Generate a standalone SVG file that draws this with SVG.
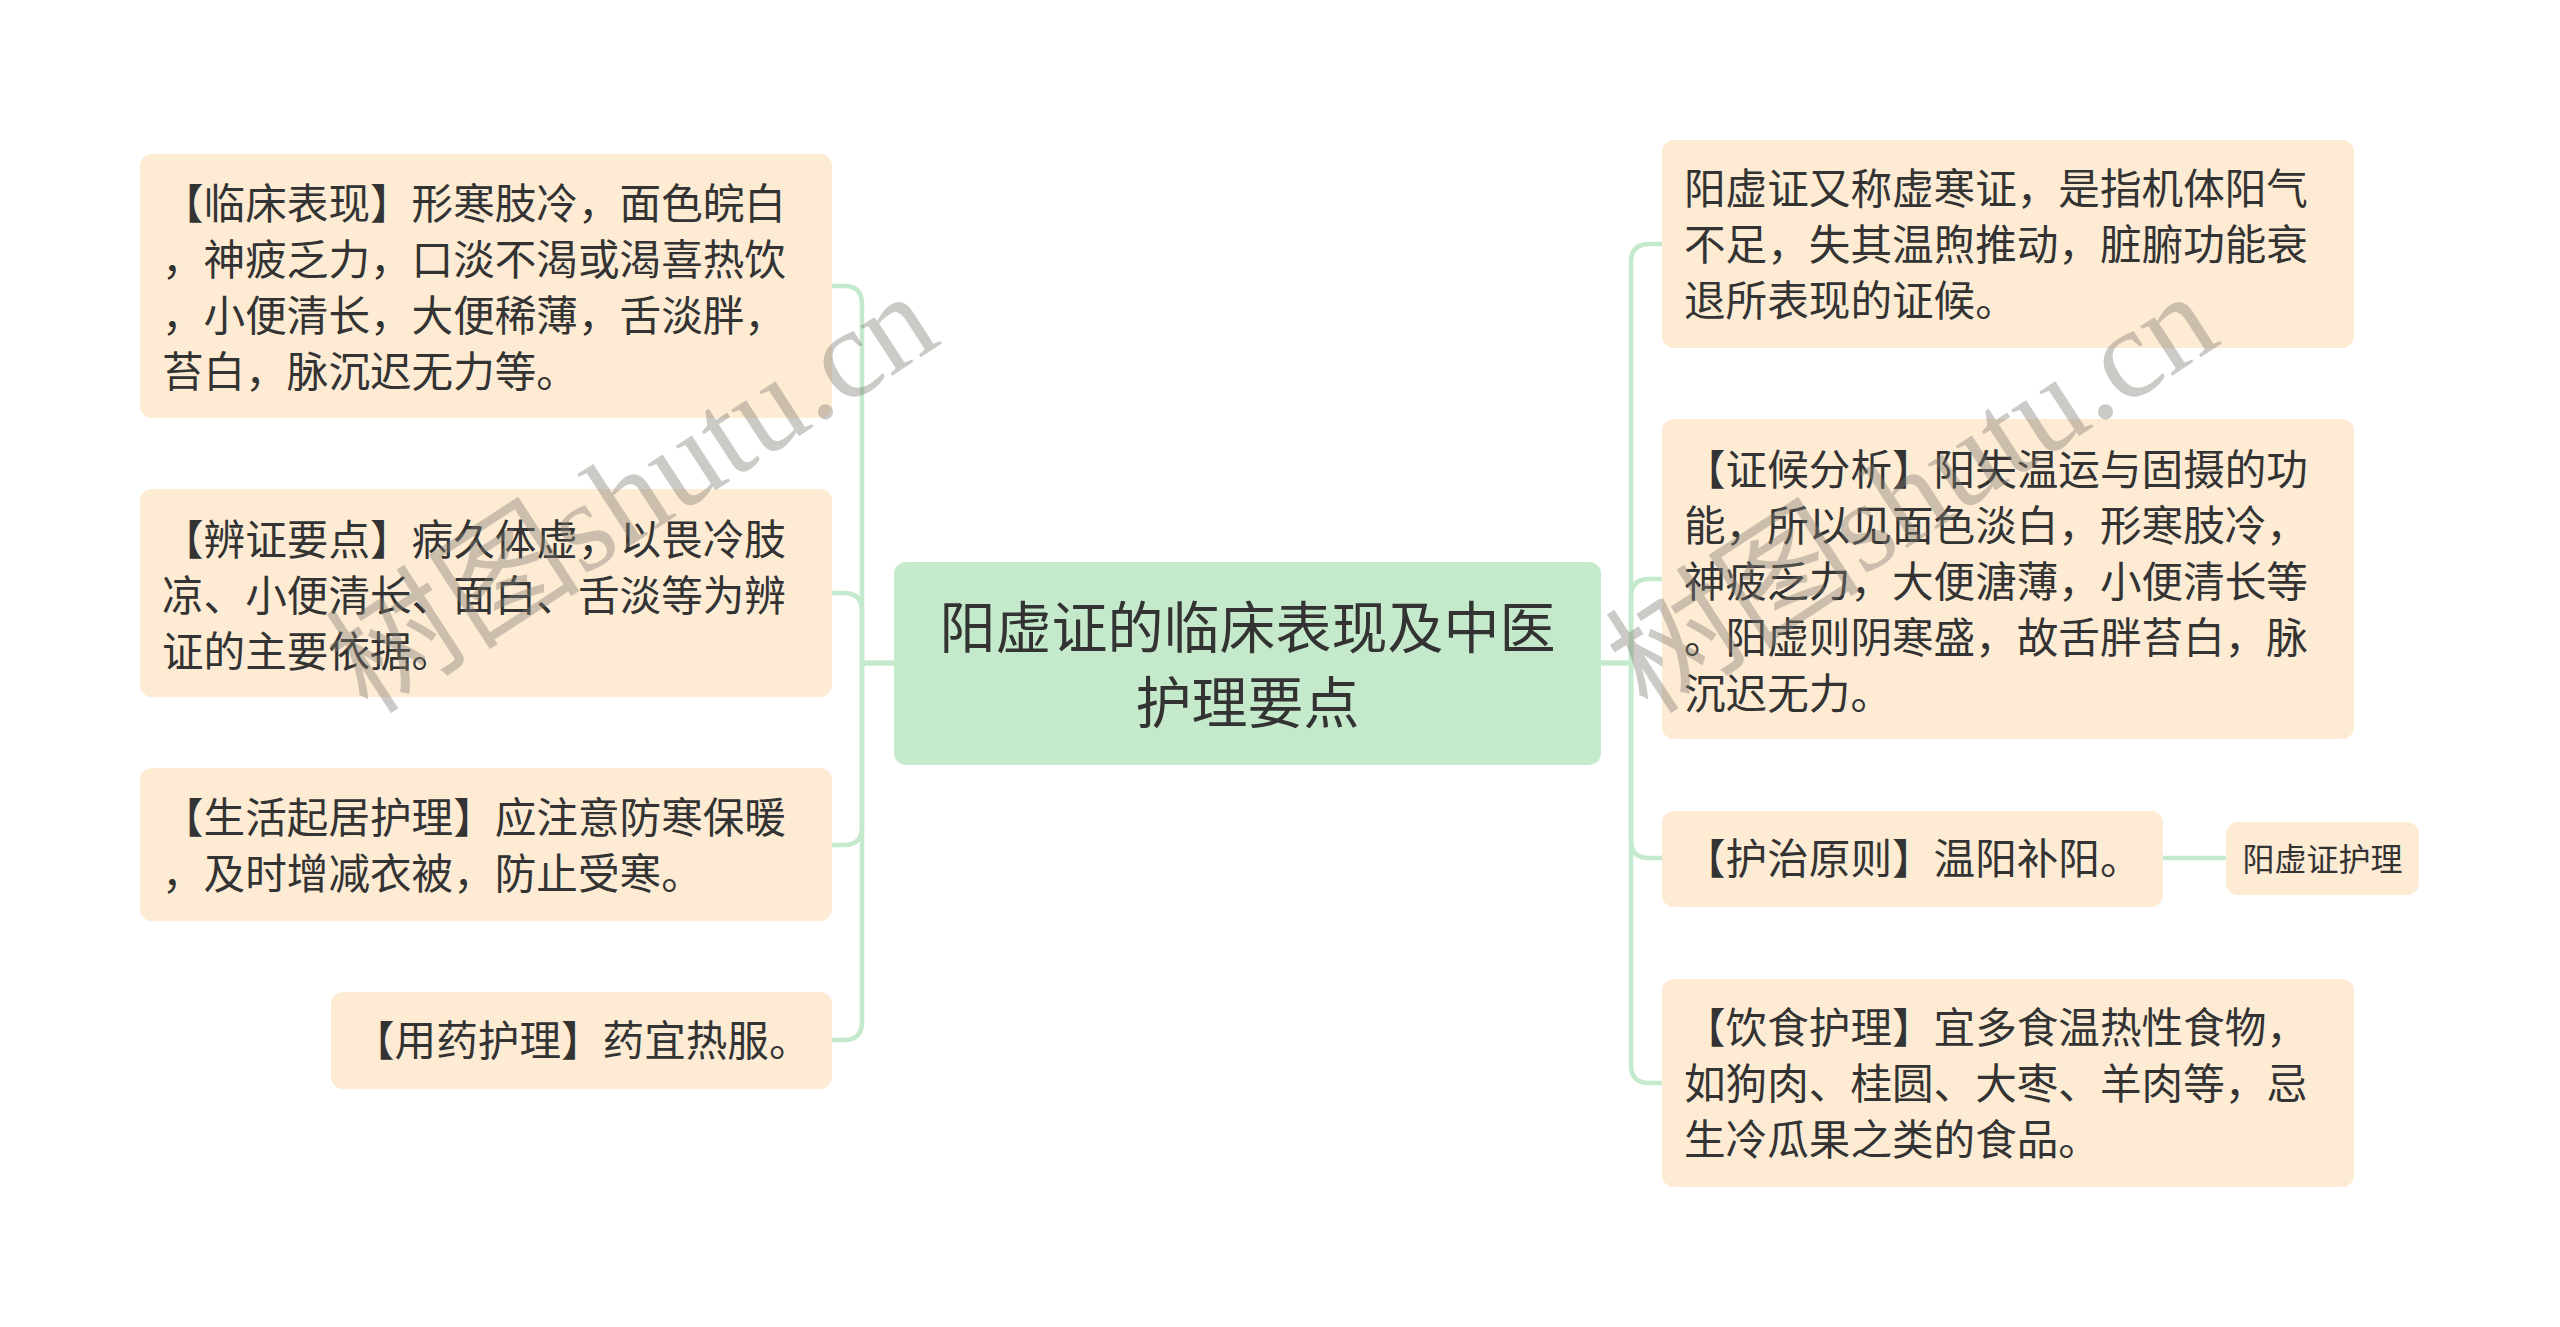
<svg xmlns="http://www.w3.org/2000/svg" width="2560" height="1327" viewBox="0 0 2560 1327">
<style>
.box{fill:#fdebd4;}
.root{fill:#c5eacb;}
.t{font-family:'Liberation Sans','Noto Sans CJK SC',sans-serif;font-size:41.6px;fill:#333333;}
.tr{font-family:'Liberation Sans','Noto Sans CJK SC',sans-serif;font-size:56px;fill:#333333;text-anchor:middle;}
.ts{font-family:'Liberation Sans','Noto Sans CJK SC',sans-serif;font-size:32px;fill:#333333;text-anchor:middle;}
.c{fill:none;stroke:#c4e9cc;stroke-width:4.5;stroke-linecap:round;stroke-linejoin:round;}
.wm{font-family:'Liberation Serif','Noto Sans CJK SC',serif;font-size:128px;fill:#807a70;fill-opacity:0.4;}
</style>
<rect width="2560" height="1327" fill="#ffffff"/>
<g id="connectors">
<path class="c" d="M894,663 H862 V304 Q862,286 844,286 H832"/>
<path class="c" d="M894,663 H862 V611 Q862,593 844,593 H832"/>
<path class="c" d="M894,663 H862 V827 Q862,845 844,845 H832"/>
<path class="c" d="M894,663 H862 V1022 Q862,1040 844,1040 H832"/>
<path class="c" d="M1601,663 H1631 V262 Q1631,244 1649,244 H1662"/>
<path class="c" d="M1601,663 H1631 V597 Q1631,579 1649,579 H1662"/>
<path class="c" d="M1601,663 H1631 V840 Q1631,858 1649,858 H1662"/>
<path class="c" d="M1601,663 H1631 V1065 Q1631,1083 1649,1083 H1662"/>
<path class="c" d="M2163,858 H2226"/>
</g>
<g id="root">
<rect class="root" x="894" y="562" width="707" height="203" rx="12"/>
<text class="tr" x="1247.5" y="648">阳虚证的临床表现及中医</text>
<text class="tr" x="1247.5" y="723">护理要点</text>
</g>
<g id="node-linchuang">
<rect class="box" x="140" y="154" width="692" height="264" rx="12"/>
<text class="t" x="162" y="219">【临床表现】形寒肢冷，面色皖白</text>
<text class="t" x="162" y="275">，神疲乏力，口淡不渴或渴喜热饮</text>
<text class="t" x="162" y="331">，小便清长，大便稀薄，舌淡胖，</text>
<text class="t" x="162" y="387">苔白，脉沉迟无力等。</text>
</g>
<g id="node-bianzheng">
<rect class="box" x="140" y="489" width="692" height="208" rx="12"/>
<text class="t" x="162" y="555">【辨证要点】病久体虚，以畏冷肢</text>
<text class="t" x="162" y="611">凉、小便清长、面白、舌淡等为辨</text>
<text class="t" x="162" y="667">证的主要依据。</text>
</g>
<g id="node-shenghuo">
<rect class="box" x="140" y="768" width="692" height="153" rx="12"/>
<text class="t" x="162" y="833">【生活起居护理】应注意防寒保暖</text>
<text class="t" x="162" y="889">，及时增减衣被，防止受寒。</text>
</g>
<g id="node-yongyao">
<rect class="box" x="331" y="992" width="501" height="97" rx="12"/>
<text class="t" x="353" y="1056">【用药护理】药宜热服。</text>
</g>
<g id="node-dingyi">
<rect class="box" x="1662" y="140" width="692" height="208" rx="12"/>
<text class="t" x="1684" y="204">阳虚证又称虚寒证，是指机体阳气</text>
<text class="t" x="1684" y="260">不足，失其温煦推动，脏腑功能衰</text>
<text class="t" x="1684" y="316">退所表现的证候。</text>
</g>
<g id="node-fenxi">
<rect class="box" x="1662" y="419" width="692" height="320" rx="12"/>
<text class="t" x="1684" y="485">【证候分析】阳失温运与固摄的功</text>
<text class="t" x="1684" y="541">能，所以见面色淡白，形寒肢冷，</text>
<text class="t" x="1684" y="597">神疲乏力，大便溏薄，小便清长等</text>
<text class="t" x="1684" y="653">。阳虚则阴寒盛，故舌胖苔白，脉</text>
<text class="t" x="1684" y="709">沉迟无力。</text>
</g>
<g id="node-yuanze">
<rect class="box" x="1662" y="811" width="501" height="96" rx="12"/>
<text class="t" x="1684" y="874">【护治原则】温阳补阳。</text>
</g>
<g id="node-huli">
<rect class="box" x="2226" y="822" width="193" height="73" rx="12"/>
<text class="ts" x="2322.5" y="871">阳虚证护理</text>
</g>
<g id="node-yinshi">
<rect class="box" x="1662" y="979" width="692" height="208" rx="12"/>
<text class="t" x="1684" y="1043">【饮食护理】宜多食温热性食物，</text>
<text class="t" x="1684" y="1099">如狗肉、桂圆、大枣、羊肉等，忌</text>
<text class="t" x="1684" y="1155">生冷瓜果之类的食品。</text>
</g>
<g id="watermarks">
<text class="wm" transform="translate(368,716) rotate(-33)">树图shutu.cn</text>
<text class="wm" transform="translate(1648,716) rotate(-33)">树图shutu.cn</text>
</g>
</svg>
